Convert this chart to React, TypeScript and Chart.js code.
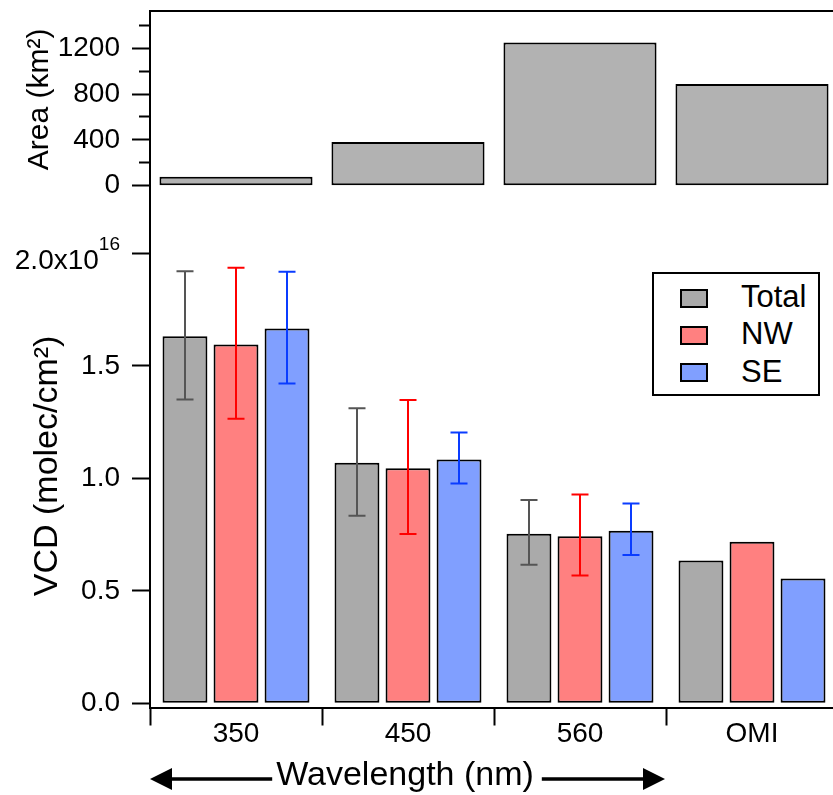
import React, { useEffect, useRef } from 'react';
import { Chart, registerables } from 'chart.js';

Chart.register(...registerables);

// ---------- data ----------
const categories = ['350', '450', '560', 'OMI'];
const areaKm2 = [79, 382, 1249, 888];

// VCD in units of 1e16 molec/cm2
const totalVCD = [1.632, 1.069, 0.754, 0.635];
const nwVCD = [1.595, 1.045, 0.742, 0.718];
const seVCD = [1.666, 1.084, 0.767, 0.555];

const totalErrHigh = [1.921, 1.311, 0.904, null];
const totalErrLow = [1.35, 0.834, 0.616, null];
const nwErrHigh = [1.936, 1.348, 0.928, null];
const nwErrLow = [1.265, 0.753, 0.568, null];
const seErrHigh = [1.918, 1.204, 0.888, null];
const seErrLow = [1.421, 0.977, 0.659, null];

const seriesNames = ['Total', 'NW', 'SE'];

const areaTickValues = [0, 200, 400, 600, 800, 1000, 1200, 1400];
const areaMajorTicks = [0, 400, 800, 1200];
const vcdTickValues = [0, 0.5, 1, 1.5, 2];
const vcdTickLabels = ['0.0', '0.5', '1.0', '1.5', ''];
const vcdExpTick = { value: 2, mantissa: '2.0x10', exponent: '16' };

// ---------- styles ----------
const FONT = "'Liberation Sans', Arial, Helvetica, sans-serif";
const seriesFill = ['#aaaaaa', '#ff8080', '#809fff'];
const seriesErrColor = ['#555555', '#ff0000', '#0a3cff'];
const areaFill = '#b2b2b2';

const errHighAll = [totalErrHigh, nwErrHigh, seErrHigh];
const errLowAll = [totalErrLow, nwErrLow, seErrLow];

const zeroPad = (s: any) => {
  s.paddingTop = 0;
  s.paddingBottom = 0;
  s.paddingLeft = 0;
  s.paddingRight = 0;
};

const errorBarPlugin = {
  id: 'errorBars',
  afterDatasetsDraw(chart: any) {
    const ctx = chart.ctx;
    const yScale = chart.scales.y;
    ctx.save();
    for (let s = 0; s < 3; s++) {
      const meta = chart.getDatasetMeta(s);
      meta.data.forEach((bar: any, j: number) => {
        const hi = errHighAll[s][j];
        const lo = errLowAll[s][j];
        if (hi == null || lo == null) return;
        const x = Math.round(bar.x);
        const yh = yScale.getPixelForValue(hi);
        const yl = yScale.getPixelForValue(lo);
        ctx.strokeStyle = seriesErrColor[s];
        ctx.lineWidth = 2;
        ctx.beginPath();
        ctx.moveTo(x, yh);
        ctx.lineTo(x, yl);
        ctx.moveTo(x - 8.5, yh);
        ctx.lineTo(x + 8.5, yh);
        ctx.moveTo(x - 8.5, yl);
        ctx.lineTo(x + 8.5, yl);
        ctx.stroke();
      });
    }
    ctx.restore();
  },
};

const expTickPlugin = {
  id: 'expTick',
  afterDraw(chart: any) {
    const { ctx } = chart;
    const y = chart.scales.y;
    const py = y.getPixelForValue(vcdExpTick.value);
    const right = y.right - 18 - 12;
    ctx.save();
    ctx.fillStyle = '#000';
    ctx.textBaseline = 'alphabetic';
    ctx.textAlign = 'right';
    ctx.font = `19px ${FONT}`;
    ctx.fillText(vcdExpTick.exponent, right, py - 3);
    const ew = ctx.measureText(vcdExpTick.exponent).width;
    ctx.font = `28px ${FONT}`;
    ctx.fillText(vcdExpTick.mantissa, right - ew, py + 16);
    ctx.restore();
  },
};

const wavelengthTitlePlugin = {
  id: 'wavelengthTitle',
  afterDraw(chart: any) {
    const { ctx, chartArea } = chart;
    const x = chart.scales.x;
    const text = 'Wavelength (nm)';
    const cx = x.getPixelForValue(1) - 3;
    const y = x.top + 68.5;
    const leftTip = chartArea.left;
    const rightTip = (x.getPixelForValue(2) + x.getPixelForValue(3)) / 2 - 1;
    ctx.save();
    ctx.font = `34px ${FONT}`;
    ctx.fillStyle = '#000';
    ctx.textAlign = 'center';
    ctx.textBaseline = 'middle';
    ctx.fillText(text, cx, y);
    const w = ctx.measureText(text).width;
    const tl = cx - w / 2 - 4;
    const tr = cx + w / 2 + 8;
    const ay = y + 3;
    const headLen = 22;
    const headHalf = 11;
    ctx.strokeStyle = '#000';
    ctx.lineWidth = 3.5;
    ctx.beginPath();
    ctx.moveTo(leftTip + headLen - 2, ay);
    ctx.lineTo(tl, ay);
    ctx.moveTo(tr, ay);
    ctx.lineTo(rightTip - headLen + 2, ay);
    ctx.stroke();
    ctx.beginPath();
    ctx.moveTo(leftTip, ay);
    ctx.lineTo(leftTip + headLen, ay - headHalf);
    ctx.lineTo(leftTip + headLen, ay + headHalf);
    ctx.closePath();
    ctx.moveTo(rightTip, ay);
    ctx.lineTo(rightTip - headLen, ay - headHalf);
    ctx.lineTo(rightTip - headLen, ay + headHalf);
    ctx.closePath();
    ctx.fill();
    ctx.restore();
  },
};

const TOP_H = 196;
const TOTAL_H = 795;
const CANVAS_W = 840;

export default function App() {
  const topRef = useRef<HTMLCanvasElement | null>(null);
  const bottomRef = useRef<HTMLCanvasElement | null>(null);

  useEffect(() => {
    if (!topRef.current || !bottomRef.current) return;

    const areaChart = new Chart(topRef.current, {
      type: 'bar',
      data: {
        labels: categories,
        datasets: [
          {
            label: 'Area',
            data: areaKm2,
            backgroundColor: areaFill,
            borderColor: '#000',
            borderWidth: 2,
            borderSkipped: false,
            categoryPercentage: 0.89,
            barPercentage: 1.0,
          },
        ],
      },
      options: {
        animation: false,
        responsive: false,
        devicePixelRatio: 1,
        layout: { padding: { top: 11, right: 2, left: 0, bottom: 0 } },
        plugins: { legend: { display: false }, tooltip: { enabled: false } },
        scales: {
          x: {
            type: 'category',
            position: 'top',
            offset: true,
            grid: { display: true, drawOnChartArea: false, drawTicks: false },
            border: { display: true, color: '#000', width: 2 },
            ticks: { display: false },
            afterFit: (s: any) => {
              s.height = 0;
              zeroPad(s);
            },
          },
          y: {
            type: 'linear',
            position: 'left',
            min: -90,
            max: 1525,
            afterBuildTicks: (s: any) => {
              s.ticks = areaTickValues.map((v) => ({ value: v }));
            },
            grid: {
              display: true,
              drawOnChartArea: false,
              drawTicks: true,
              tickLength: 18,
              tickWidth: 2,
              tickColor: '#000',
              tickBorderDash: (c: any) =>
                c.tick && areaMajorTicks.includes(c.tick.value) ? [] : [0, 7, 14, 100],
            },
            border: { display: true, color: '#000', width: 2 },
            ticks: {
              autoSkip: false,
              color: '#000',
              font: { family: FONT, size: 28 },
              padding: 12,
              callback: (v: any) => (areaMajorTicks.includes(v) ? String(v) : ''),
            },
            title: {
              display: true,
              text: ' Area (km²)',
              color: '#000',
              font: { family: FONT, size: 30 },
              padding: { top: 22, bottom: 0 },
            },
            afterFit: (s: any) => {
              s.width = 150;
              zeroPad(s);
            },
          },
        },
      } as any,
    });

    const vcdSets = [totalVCD, nwVCD, seVCD];
    const vcdChart = new Chart(bottomRef.current, {
      type: 'bar',
      data: {
        labels: categories,
        datasets: vcdSets.map((d, i) => ({
          label: seriesNames[i],
          data: d,
          backgroundColor: seriesFill[i],
          borderColor: '#000',
          borderWidth: 2,
          borderSkipped: false,
          categoryPercentage: 0.89,
          barPercentage: 0.88,
        })),
      },
      options: {
        animation: false,
        responsive: false,
        devicePixelRatio: 1,
        layout: { padding: { top: 0, right: 2, left: 0, bottom: 0 } },
        plugins: { legend: { display: false }, tooltip: { enabled: false } },
        scales: {
          x: {
            type: 'category',
            position: 'bottom',
            offset: true,
            grid: {
              display: true,
              offset: true,
              drawOnChartArea: false,
              drawTicks: true,
              tickLength: 18,
              tickWidth: 2,
              tickColor: '#000',
            },
            border: { display: true, color: '#000', width: 2 },
            ticks: {
              color: '#000',
              font: { family: FONT, size: 28 },
              padding: -8,
              maxRotation: 0,
              autoSkip: false,
            },
            afterFit: (s: any) => {
              s.height = 87.5;
              zeroPad(s);
            },
          },
          y: {
            type: 'linear',
            position: 'left',
            min: -0.0187,
            max: 2.255,
            afterBuildTicks: (s: any) => {
              s.ticks = vcdTickValues.map((v) => ({ value: v }));
            },
            grid: {
              display: true,
              drawOnChartArea: false,
              drawTicks: true,
              tickLength: 18,
              tickWidth: 2,
              tickColor: '#000',
            },
            border: { display: true, color: '#000', width: 2 },
            ticks: {
              autoSkip: false,
              color: '#000',
              font: { family: FONT, size: 28 },
              padding: 12,
              callback: (v: any) => {
                const k = vcdTickValues.indexOf(v);
                return k >= 0 ? vcdTickLabels[k] : '';
              },
            },
            title: {
              display: true,
              text: 'VCD (molec/cm²)   ',
              color: '#000',
              font: { family: FONT, size: 34 },
              padding: { top: 27, bottom: 0 },
            },
            afterFit: (s: any) => {
              s.width = 150;
              zeroPad(s);
            },
          },
        },
      } as any,
      plugins: [errorBarPlugin, expTickPlugin, wavelengthTitlePlugin],
    });

    return () => {
      areaChart.destroy();
      vcdChart.destroy();
    };
  }, []);

  const legendRows = seriesNames.map((name, i) => (
    <div key={name}>
      <div
        style={{
          position: 'absolute',
          left: 26,
          top: 289 - 274 + 37 * i,
          width: 28,
          height: 19,
          boxSizing: 'border-box',
          border: '2px solid #000',
          background: seriesFill[i],
        }}
      />
      <div
        style={{
          position: 'absolute',
          left: 87,
          top: 281 - 274 + 37.3 * i,
          fontFamily: FONT,
          fontSize: 31,
          lineHeight: '31px',
          color: '#000',
          whiteSpace: 'nowrap',
        }}
      >
        {name}
      </div>
    </div>
  ));

  return (
    <div
      style={{
        position: 'absolute',
        left: 0,
        top: 0,
        width: 833,
        height: TOTAL_H,
        overflow: 'hidden',
        background: '#fff',
      }}
    >
      <canvas
        ref={topRef}
        width={CANVAS_W}
        height={TOP_H}
        style={{ display: 'block', position: 'absolute', left: 0, top: 0 }}
      />
      <canvas
        ref={bottomRef}
        width={CANVAS_W}
        height={TOTAL_H - TOP_H}
        style={{ display: 'block', position: 'absolute', left: 0, top: TOP_H }}
      />
      <div
        style={{
          position: 'absolute',
          left: 652,
          top: 272,
          width: 168,
          height: 124,
          boxSizing: 'border-box',
          border: '2px solid #000',
          background: '#fff',
        }}
      >
        {legendRows}
      </div>
    </div>
  );
}
